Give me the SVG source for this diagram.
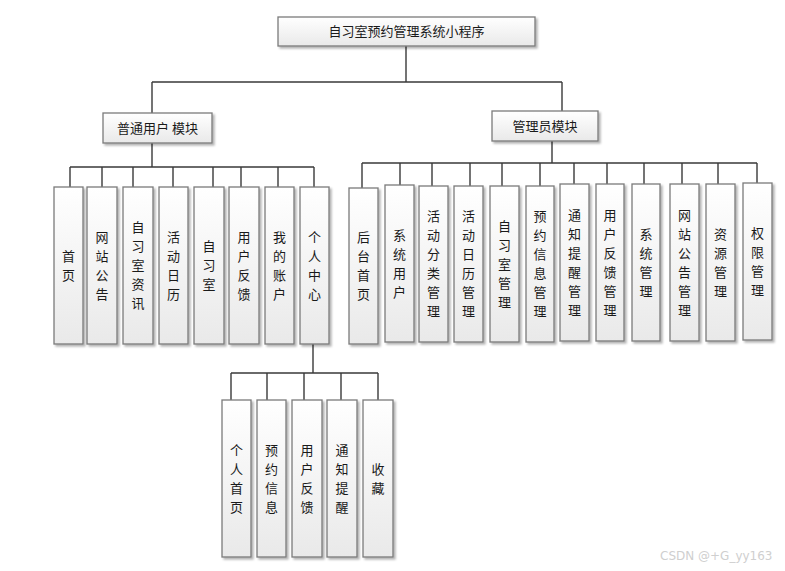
<svg xmlns="http://www.w3.org/2000/svg" width="785" height="571" viewBox="0 0 785 571">
<style>
.box{fill:url(#g);stroke:#7a7a7a;stroke-width:1.3;filter:url(#sh)}
.t{font-family:"Noto Sans CJK SC","Noto Sans",sans-serif;font-size:13px;fill:#1a1a1a;text-anchor:middle}
.c{fill:none;stroke:#3a3a3a;stroke-width:1.4}
.wm{font-family:"DejaVu Sans",sans-serif;font-size:12px;fill:#cfcfcf}
</style>
<defs>
<linearGradient id="g" x1="0" y1="0" x2="0" y2="1">
<stop offset="0" stop-color="#ffffff"/>
<stop offset="1" stop-color="#e9e9e9"/>
</linearGradient>
<filter id="sh" x="-20%" y="-20%" width="150%" height="150%">
<feDropShadow dx="2" dy="2" stdDeviation="1" flood-color="#000" flood-opacity="0.3"/>
</filter>
</defs>
<rect width="785" height="571" fill="#fff"/>
<g id="connectors">
<path class="c" d="M406 46V82M152 82H562M152 82V113M562 82V111"/>
<path class="c" d="M152 143V167M70 167H314M70 167V187M102 167V187M133 167V187M173 167V187M213 167V187M241 167V187M278 167V187M314 167V187"/>
<path class="c" d="M552 141V163M362 163H757M362 163V188M400 163V185M432 163V186M470 163V186M502 163V186M540 163V186M574 163V184M607 163V184M644 163V184M682 163V184M718 163V184M757 163V183"/>
<path class="c" d="M313 344V373M231 373H378M231 373V400M267 373V400M304 373V400M341 373V400M378 373V400"/>
</g>
<g id="root"><rect class="box" x="278" y="17" width="257" height="29"/><text class="t" x="406.5" y="36">自习室预约管理系统小程序</text></g>
<g id="user-module"><rect class="box" x="103" y="113" width="109" height="30"/><text class="t" x="157.5" y="132.5">普通用户 模块</text></g>
<g id="admin-module"><rect class="box" x="492" y="111" width="106" height="30"/><text class="t" x="545" y="130.5">管理员模块</text></g>

<g id="u1"><rect class="box" x="54" y="187" width="29" height="157"/><text class="t" x="68.5" y="260.5"><tspan x="68.5">首</tspan><tspan x="68.5" dy="19">页</tspan></text></g>
<g id="u2"><rect class="box" x="87" y="187" width="30" height="157"/><text class="t" x="102" y="241.5"><tspan x="102">网</tspan><tspan x="102" dy="19">站</tspan><tspan x="102" dy="19">公</tspan><tspan x="102" dy="19">告</tspan></text></g>
<g id="u3"><rect class="box" x="123" y="187" width="30" height="157"/><text class="t" x="138" y="232"><tspan x="138">自</tspan><tspan x="138" dy="19">习</tspan><tspan x="138" dy="19">室</tspan><tspan x="138" dy="19">资</tspan><tspan x="138" dy="19">讯</tspan></text></g>
<g id="u4"><rect class="box" x="159" y="187" width="29" height="157"/><text class="t" x="173.5" y="241.5"><tspan x="173.5">活</tspan><tspan x="173.5" dy="19">动</tspan><tspan x="173.5" dy="19">日</tspan><tspan x="173.5" dy="19">历</tspan></text></g>
<g id="u5"><rect class="box" x="194" y="187" width="30" height="157"/><text class="t" x="209" y="251"><tspan x="209">自</tspan><tspan x="209" dy="19">习</tspan><tspan x="209" dy="19">室</tspan></text></g>
<g id="u6"><rect class="box" x="229" y="187" width="30" height="157"/><text class="t" x="244" y="241.5"><tspan x="244">用</tspan><tspan x="244" dy="19">户</tspan><tspan x="244" dy="19">反</tspan><tspan x="244" dy="19">馈</tspan></text></g>
<g id="u7"><rect class="box" x="265" y="187" width="29" height="157"/><text class="t" x="279.5" y="241.5"><tspan x="279.5">我</tspan><tspan x="279.5" dy="19">的</tspan><tspan x="279.5" dy="19">账</tspan><tspan x="279.5" dy="19">户</tspan></text></g>
<g id="u8"><rect class="box" x="300" y="187" width="29" height="157"/><text class="t" x="314.5" y="241.5"><tspan x="314.5">个</tspan><tspan x="314.5" dy="19">人</tspan><tspan x="314.5" dy="19">中</tspan><tspan x="314.5" dy="19">心</tspan></text></g>

<g id="a1"><rect class="box" x="349" y="188" width="29" height="156"/><text class="t" x="363.5" y="242"><tspan x="363.5">后</tspan><tspan x="363.5" dy="19">台</tspan><tspan x="363.5" dy="19">首</tspan><tspan x="363.5" dy="19">页</tspan></text></g>
<g id="a2"><rect class="box" x="385" y="185" width="29" height="157"/><text class="t" x="399.5" y="239.5"><tspan x="399.5">系</tspan><tspan x="399.5" dy="19">统</tspan><tspan x="399.5" dy="19">用</tspan><tspan x="399.5" dy="19">户</tspan></text></g>
<g id="a3"><rect class="box" x="419" y="186" width="29" height="156"/><text class="t" x="433.5" y="221"><tspan x="433.5">活</tspan><tspan x="433.5" dy="19">动</tspan><tspan x="433.5" dy="19">分</tspan><tspan x="433.5" dy="19">类</tspan><tspan x="433.5" dy="19">管</tspan><tspan x="433.5" dy="19">理</tspan></text></g>
<g id="a4"><rect class="box" x="454" y="186" width="29" height="156"/><text class="t" x="468.5" y="221"><tspan x="468.5">活</tspan><tspan x="468.5" dy="19">动</tspan><tspan x="468.5" dy="19">日</tspan><tspan x="468.5" dy="19">历</tspan><tspan x="468.5" dy="19">管</tspan><tspan x="468.5" dy="19">理</tspan></text></g>
<g id="a5"><rect class="box" x="490" y="186" width="29" height="156"/><text class="t" x="504.5" y="230.5"><tspan x="504.5">自</tspan><tspan x="504.5" dy="19">习</tspan><tspan x="504.5" dy="19">室</tspan><tspan x="504.5" dy="19">管</tspan><tspan x="504.5" dy="19">理</tspan></text></g>
<g id="a6"><rect class="box" x="526" y="186" width="28" height="156"/><text class="t" x="540" y="221"><tspan x="540">预</tspan><tspan x="540" dy="19">约</tspan><tspan x="540" dy="19">信</tspan><tspan x="540" dy="19">息</tspan><tspan x="540" dy="19">管</tspan><tspan x="540" dy="19">理</tspan></text></g>
<g id="a7"><rect class="box" x="560" y="184" width="29" height="157"/><text class="t" x="574.5" y="219.5"><tspan x="574.5">通</tspan><tspan x="574.5" dy="19">知</tspan><tspan x="574.5" dy="19">提</tspan><tspan x="574.5" dy="19">醒</tspan><tspan x="574.5" dy="19">管</tspan><tspan x="574.5" dy="19">理</tspan></text></g>
<g id="a8"><rect class="box" x="596" y="184" width="28" height="157"/><text class="t" x="610" y="219.5"><tspan x="610">用</tspan><tspan x="610" dy="19">户</tspan><tspan x="610" dy="19">反</tspan><tspan x="610" dy="19">馈</tspan><tspan x="610" dy="19">管</tspan><tspan x="610" dy="19">理</tspan></text></g>
<g id="a9"><rect class="box" x="632" y="184" width="28" height="157"/><text class="t" x="646" y="238.5"><tspan x="646">系</tspan><tspan x="646" dy="19">统</tspan><tspan x="646" dy="19">管</tspan><tspan x="646" dy="19">理</tspan></text></g>
<g id="a10"><rect class="box" x="670" y="184" width="29" height="157"/><text class="t" x="684.5" y="219.5"><tspan x="684.5">网</tspan><tspan x="684.5" dy="19">站</tspan><tspan x="684.5" dy="19">公</tspan><tspan x="684.5" dy="19">告</tspan><tspan x="684.5" dy="19">管</tspan><tspan x="684.5" dy="19">理</tspan></text></g>
<g id="a11"><rect class="box" x="706" y="184" width="29" height="157"/><text class="t" x="720.5" y="238.5"><tspan x="720.5">资</tspan><tspan x="720.5" dy="19">源</tspan><tspan x="720.5" dy="19">管</tspan><tspan x="720.5" dy="19">理</tspan></text></g>
<g id="a12"><rect class="box" x="743" y="183" width="29" height="157"/><text class="t" x="757.5" y="237.5"><tspan x="757.5">权</tspan><tspan x="757.5" dy="19">限</tspan><tspan x="757.5" dy="19">管</tspan><tspan x="757.5" dy="19">理</tspan></text></g>

<g id="p1"><rect class="box" x="222" y="400" width="29" height="157"/><text class="t" x="236.5" y="454.5"><tspan x="236.5">个</tspan><tspan x="236.5" dy="19">人</tspan><tspan x="236.5" dy="19">首</tspan><tspan x="236.5" dy="19">页</tspan></text></g>
<g id="p2"><rect class="box" x="257" y="400" width="29" height="157"/><text class="t" x="271.5" y="454.5"><tspan x="271.5">预</tspan><tspan x="271.5" dy="19">约</tspan><tspan x="271.5" dy="19">信</tspan><tspan x="271.5" dy="19">息</tspan></text></g>
<g id="p3"><rect class="box" x="292" y="400" width="30" height="157"/><text class="t" x="307" y="454.5"><tspan x="307">用</tspan><tspan x="307" dy="19">户</tspan><tspan x="307" dy="19">反</tspan><tspan x="307" dy="19">馈</tspan></text></g>
<g id="p4"><rect class="box" x="327" y="400" width="30" height="157"/><text class="t" x="342" y="454.5"><tspan x="342">通</tspan><tspan x="342" dy="19">知</tspan><tspan x="342" dy="19">提</tspan><tspan x="342" dy="19">醒</tspan></text></g>
<g id="p5"><rect class="box" x="363" y="400" width="30" height="157"/><text class="t" x="378" y="473.5"><tspan x="378">收</tspan><tspan x="378" dy="19">藏</tspan></text></g>

<text class="wm" x="660" y="560">CSDN @+G_yy163</text>
</svg>
